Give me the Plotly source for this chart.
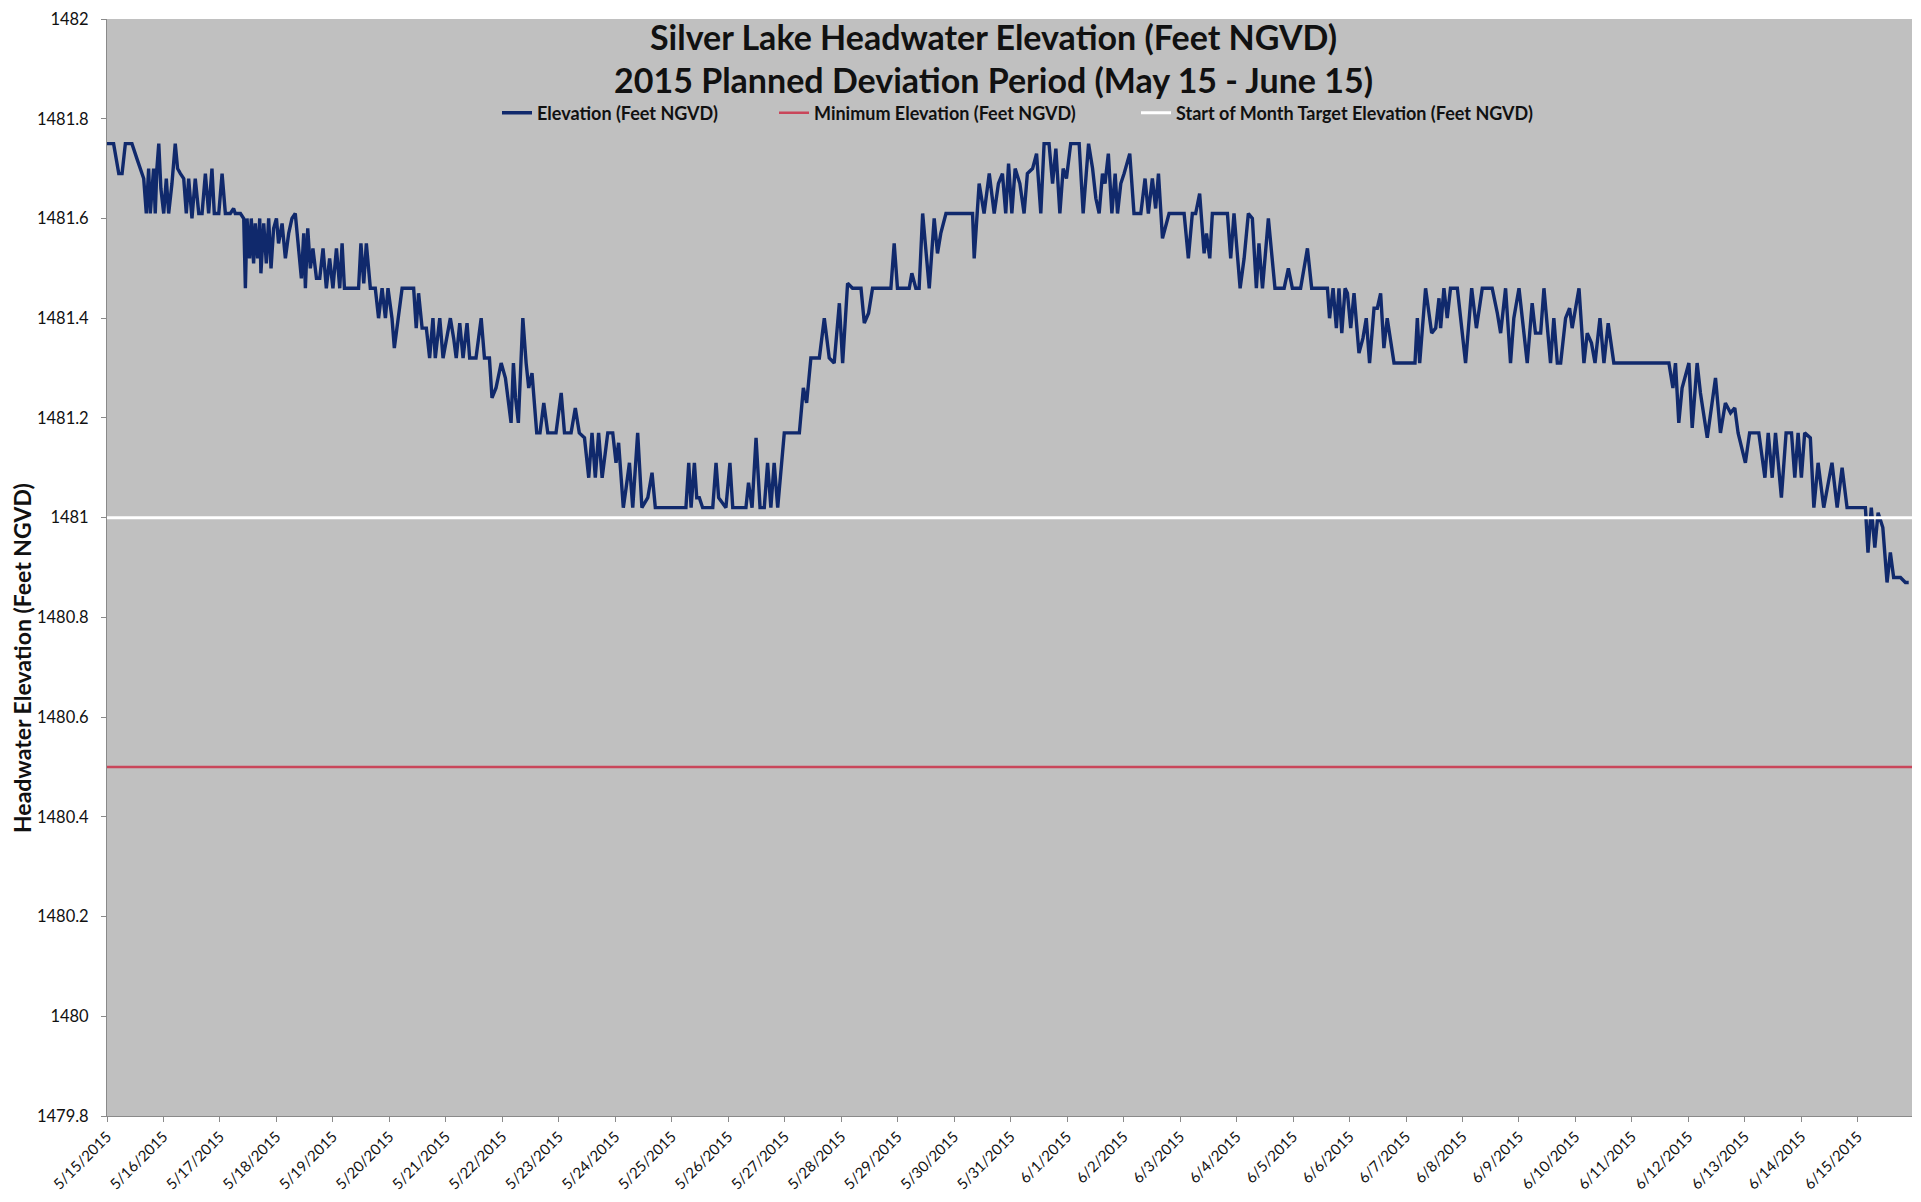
import plotly.graph_objects as go
from datetime import datetime, timedelta

# ---------------- data ----------------
period_start = datetime(2015, 5, 15)
period_hours = 767  # 5/15/2015 00:00 through 6/15/2015 23:00

hours = [
    0, 2.8, 5.0, 6.4, 7.8, 10.6, 12.7, 14.2, 15.6, 16.7, 17.7, 18.4, 19.8, 20.5, 21.2, 22.0, 22.9, 24.1,
    25.2, 26.2, 27.6, 29.0, 30.0, 31.2, 32.6, 33.7, 34.7, 36.1, 37.5, 39.0, 40.4, 41.8, 43.2, 44.6, 45.6,
    47.5, 48.9, 50.3, 52.4, 53.8, 54.5, 56.7, 58.1, 58.8, 59.5, 60.6, 61.3, 62.3, 63.0, 64.0, 64.9, 65.4,
    66.6, 67.7, 68.7, 69.7, 70.8, 72.0, 72.9, 74.4, 75.8, 77.2, 78.6, 80.0, 81.4, 82.6, 83.6, 84.3, 85.3,
    86.4, 87.5, 89.0, 90.4, 91.8, 93.2, 94.6, 96.0, 97.5, 98.9, 99.9, 100.9, 104.1, 106.9, 107.9, 109.1,
    110.2, 111.9, 114.0, 115.4, 116.9, 118.3, 119.4, 121.1, 122.1, 123.5, 125.4, 128.9, 130.3, 131.4,
    132.4, 133.9, 135.7, 137.1, 138.5, 139.5, 141.4, 142.8, 144.5, 145.9, 147.3, 148.4, 149.9, 151.3,
    153.0, 154.1, 155.8,
    156.8, 159.0, 160.4, 162.5, 163.6, 165.3, 167.5, 169.3, 170.3, 171.7, 172.7, 173.6, 174.8, 176.7,
    178.1, 179.2, 180.6, 182.6, 184.0, 185.6, 187.3, 190.8, 193.0, 194.4, 197.2, 199.0, 200.7, 202.9,
    204.7, 206.1, 207.5, 208.9, 210.4, 212.8, 214.9, 216.3, 217.4, 219.4, 220.6, 222.0, 223.4, 225.5,
    227.3, 229.8, 231.6, 233.0, 236.1, 238.7, 240.1, 246.0, 247.2, 248.2, 249.6, 250.6, 251.7, 253.1,
    257.4, 258.8, 259.9, 261.3, 263.0, 264.7, 265.9, 271.5, 272.6, 274.1, 275.8, 277.5, 279.3, 280.7,
    282.1, 283.5, 285.0, 287.8, 292.0, 294.2, 295.9, 297.3, 299.1, 302.7, 304.8, 306.9, 309.0,
    311.2, 312.6, 314.7, 316.8, 320.4, 321.8, 323.6, 325.3, 333.1, 334.5, 335.9, 340.9, 342.0, 343.7,
    345.1, 346.6, 348.0, 349.4, 351.5, 352.9, 354.3, 356.5, 367.8, 368.5, 370.6, 372.7, 374.9, 377.0,
    378.8, 380.5, 381.9, 383.1, 384.5, 385.9, 387.9, 389.7, 391.1, 393.3, 395.0, 396.8, 398.2, 400.3,
    401.8, 403.2, 404.9, 406.3, 407.7, 409.5, 413.1, 414.8, 417.1, 418.8, 420.2, 421.6, 423.0, 424.1,
    425.5, 427.0, 428.4, 429.4, 430.8, 432.2, 434.6, 436.4, 439.3, 441.1, 442.5, 444.2, 445.6, 446.8,
    448.5, 451.3, 457.7, 459.5, 461.2,
    462.6, 464.3, 466.2, 467.2, 468.6, 469.7, 476.1, 477.5, 478.9, 481.5, 483.2, 485.0, 486.7, 488.4,
    489.5, 491.0, 493.5, 496.3, 500.2, 502.0, 503.7, 507.2, 510.1, 511.9, 518.6, 519.5, 521.0, 522.4,
    523.5, 524.7, 526.1, 527.1, 528.5, 529.9, 532.0, 533.7, 535.1, 536.5, 538.4, 539.8, 541.2, 542.6,
    544.0, 546.9, 551.8, 555.8, 556.8, 557.8, 560.3, 562.9, 564.6, 566.0, 566.7, 568.1, 569.5, 570.9,
    573.8, 577.3, 579.9, 581.9, 584.4, 588.6, 590.8, 592.2, 594.3, 596.4, 597.8, 600.0, 603.5, 605.6,
    607.0, 609.2, 610.6, 613.4, 614.8,
    616.3, 617.7, 619.8, 621.5, 622.6, 625.5, 627.6, 629.0, 630.8, 632.3, 634.4, 636.1, 637.9, 640.3,
    646.7, 653.8, 660.1, 663.7, 665.4, 666.5, 667.9, 669.3, 672.2, 673.6, 675.7, 677.1, 680.0, 683.5,
    685.6, 687.7, 689.9, 691.7, 693.1, 696.2, 698.0, 701.9, 704.5, 705.9, 707.6, 709.0, 711.5, 713.5,
    715.8, 717.2, 718.6, 720.0, 721.4, 723.8, 725.3, 727.1, 729.5, 733.0, 735.2, 737.3, 739.4, 744.4,
    747.2, 748.3, 749.7, 751.2, 752.6, 754.6, 756.4, 757.8, 759.2, 762.1, 764.2, 765.6,
]

elevation = [
    1481.75, 1481.75, 1481.69, 1481.69, 1481.75, 1481.75, 1481.72, 1481.70, 1481.68, 1481.61, 1481.70,
    1481.61, 1481.70, 1481.61, 1481.70, 1481.75, 1481.66, 1481.61, 1481.68, 1481.61, 1481.67, 1481.75,
    1481.70, 1481.69, 1481.68, 1481.61, 1481.68, 1481.60, 1481.68, 1481.61, 1481.61, 1481.69, 1481.61,
    1481.70, 1481.61, 1481.61, 1481.69, 1481.61, 1481.61, 1481.62, 1481.61, 1481.61, 1481.60, 1481.46,
    1481.60, 1481.52, 1481.60, 1481.51, 1481.59, 1481.52, 1481.60, 1481.49, 1481.59, 1481.51, 1481.60,
    1481.50, 1481.58, 1481.60, 1481.55, 1481.59, 1481.52, 1481.57, 1481.60, 1481.61, 1481.54, 1481.48,
    1481.57, 1481.46, 1481.58, 1481.50, 1481.54, 1481.48, 1481.48, 1481.54, 1481.46, 1481.52, 1481.46,
    1481.54, 1481.46, 1481.55, 1481.46, 1481.46, 1481.46, 1481.55, 1481.47, 1481.55, 1481.46, 1481.46,
    1481.40, 1481.46, 1481.40, 1481.46, 1481.40, 1481.34, 1481.39, 1481.46, 1481.46, 1481.46, 1481.38,
    1481.45, 1481.38, 1481.38, 1481.32, 1481.40, 1481.32, 1481.40, 1481.32, 1481.36, 1481.40, 1481.36,
    1481.32, 1481.39, 1481.32, 1481.39, 1481.32, 1481.32,
    1481.32, 1481.40, 1481.32, 1481.32, 1481.24, 1481.26, 1481.31, 1481.28, 1481.24, 1481.19, 1481.31,
    1481.24, 1481.19, 1481.40, 1481.31, 1481.26, 1481.29, 1481.17, 1481.17, 1481.23, 1481.17, 1481.17,
    1481.25, 1481.17, 1481.17, 1481.22, 1481.17, 1481.16, 1481.08, 1481.17, 1481.08, 1481.17, 1481.08,
    1481.17, 1481.17, 1481.11, 1481.15, 1481.02, 1481.06, 1481.11, 1481.02, 1481.17, 1481.02, 1481.04,
    1481.09, 1481.02, 1481.02, 1481.02, 1481.02, 1481.02, 1481.11, 1481.02, 1481.11, 1481.04, 1481.04,
    1481.02, 1481.02, 1481.11, 1481.04, 1481.03, 1481.02, 1481.11, 1481.02, 1481.02, 1481.07, 1481.02,
    1481.16, 1481.02, 1481.02, 1481.11, 1481.02, 1481.11, 1481.02, 1481.17, 1481.17, 1481.17, 1481.26,
    1481.23, 1481.32, 1481.32, 1481.40, 1481.32, 1481.31,
    1481.43, 1481.31, 1481.47, 1481.46, 1481.46, 1481.39, 1481.41, 1481.46, 1481.46, 1481.55, 1481.46,
    1481.46, 1481.49, 1481.46, 1481.46, 1481.61, 1481.54, 1481.46, 1481.60, 1481.53, 1481.57, 1481.61,
    1481.61, 1481.52, 1481.67, 1481.61, 1481.69, 1481.61, 1481.67, 1481.69, 1481.61, 1481.71, 1481.61,
    1481.70, 1481.67, 1481.61, 1481.69, 1481.70, 1481.73, 1481.61, 1481.75, 1481.75, 1481.67, 1481.74,
    1481.61, 1481.70, 1481.68, 1481.75, 1481.75, 1481.61, 1481.75, 1481.70, 1481.64, 1481.61, 1481.69,
    1481.67, 1481.73, 1481.61, 1481.69, 1481.61, 1481.67, 1481.69, 1481.73, 1481.61, 1481.61, 1481.68,
    1481.61, 1481.68, 1481.62, 1481.69, 1481.56, 1481.61, 1481.61, 1481.52, 1481.61,
    1481.61, 1481.65, 1481.53, 1481.57, 1481.52, 1481.61, 1481.61, 1481.52, 1481.61, 1481.46, 1481.52,
    1481.61, 1481.60, 1481.46, 1481.55, 1481.46, 1481.60, 1481.46, 1481.46, 1481.50, 1481.46, 1481.46,
    1481.54, 1481.46, 1481.46, 1481.40, 1481.46, 1481.38, 1481.46, 1481.37, 1481.46, 1481.45, 1481.38,
    1481.45, 1481.33, 1481.36, 1481.40, 1481.31, 1481.42, 1481.42, 1481.45, 1481.34, 1481.40, 1481.31,
    1481.31, 1481.31, 1481.40, 1481.31, 1481.46, 1481.37, 1481.38, 1481.44, 1481.38, 1481.46, 1481.40,
    1481.46, 1481.46, 1481.31, 1481.46, 1481.38, 1481.46, 1481.46, 1481.41, 1481.37, 1481.46, 1481.31,
    1481.40, 1481.46, 1481.31, 1481.43, 1481.37, 1481.37, 1481.46, 1481.31, 1481.40,
    1481.31, 1481.31, 1481.40, 1481.42, 1481.38, 1481.46, 1481.31, 1481.37, 1481.35, 1481.31, 1481.40,
    1481.31, 1481.39, 1481.31, 1481.31, 1481.31, 1481.31, 1481.31, 1481.26, 1481.31, 1481.19, 1481.26,
    1481.31, 1481.18, 1481.31, 1481.25, 1481.16, 1481.28, 1481.17, 1481.23, 1481.21, 1481.22, 1481.17,
    1481.11, 1481.17, 1481.17, 1481.08, 1481.17, 1481.08, 1481.17, 1481.04, 1481.17, 1481.17, 1481.08,
    1481.17, 1481.08, 1481.17, 1481.16, 1481.02, 1481.11, 1481.02, 1481.11, 1481.02, 1481.10, 1481.02,
    1481.02, 1481.02, 1480.93, 1481.02, 1480.94, 1481.01, 1480.98, 1480.87, 1480.93, 1480.88, 1480.88,
    1480.87, 1480.87,
]

minimum_elevation = 1480.5
target_elevation = 1481.0

series_names = [
    "Elevation (Feet NGVD)",
    "Minimum Elevation (Feet NGVD)",
    "Start of Month Target Elevation (Feet NGVD)",
]
title_lines = [
    "Silver Lake Headwater Elevation (Feet NGVD)",
    "2015 Planned Deviation Period (May 15 - June 15)",
]
y_title = "Headwater Elevation (Feet NGVD)"

# ---------------- figure ----------------
x_vals = [period_start + timedelta(hours=h) for h in hours]
x_span = [period_start, period_start + timedelta(hours=period_hours)]

FONT = "Lato, 'Open Sans', sans-serif"
OFF = 8                      # page body margin in the browser
W, H = 1921 - 2 * OFF, 1202 - 2 * OFF
# plot area in page pixels: left 106.6, right 1912, top ~15, bottom 1116
ML = 107 - OFF
MT = 19 - OFF
MR = W - (1912 - OFF)
MB = H - (1116 - OFF)
PW, PH = W - ML - MR, H - MT - MB


def page_to_paper(px, py):
    return (px - OFF - ML) / PW, (H - MB - (py - OFF)) / PH


def page_to_container(px, py):
    return (px - OFF) / W, 1 - (py - OFF) / H


fig = go.Figure()
fig.add_trace(go.Scatter(
    x=x_vals, y=elevation, mode="lines", name=series_names[0],
    line=dict(color="#10296C", width=3.4), legend="legend",
))
fig.add_trace(go.Scatter(
    x=x_span, y=[minimum_elevation] * 2, mode="lines", name=series_names[1],
    line=dict(color="#C9465A", width=2.5), legend="legend2",
))
fig.add_trace(go.Scatter(
    x=x_span, y=[target_elevation] * 2, mode="lines", name=series_names[2],
    line=dict(color="#FFFFFF", width=3), legend="legend3",
))

leg_common = dict(
    orientation="h", xref="container", yref="container", xanchor="left", yanchor="middle",
    bgcolor="rgba(0,0,0,0)", borderwidth=0,
    font=dict(family=FONT, size=18, color="#111111", weight="bold"),
)
l1x, ly = page_to_container(497, 113)
l2x, _ = page_to_container(774, 113)
l3x, _ = page_to_container(1136, 113)

t1x, t1y = page_to_paper(993, 37)
t2x, t2y = page_to_paper(993, 80)
ytx, yty = page_to_paper(22, 658)

fig.update_layout(
    width=W, height=H,
    margin=dict(l=ML, r=MR, t=MT, b=MB, autoexpand=False),
    paper_bgcolor="#FFFFFF",
    plot_bgcolor="#C0C0C0",
    showlegend=True,
    legend=dict(x=l1x, y=ly, **leg_common),
    legend2=dict(x=l2x, y=ly, **leg_common),
    legend3=dict(x=l3x, y=ly, **leg_common),
    xaxis=dict(
        type="date", range=x_span, tickformat="%-m/%-d/%Y", dtick=86400000, tick0=period_start,
        tickangle=-45, ticks="outside", ticklen=5, tickcolor="#8A8A8A",
        showline=True, linecolor="#8A8A8A", linewidth=1, showgrid=False, zeroline=False,
        tickfont=dict(family=FONT, size=15, color="#111111"), automargin=False,
        ticklabeloverflow="allow",
    ),
    yaxis=dict(
        range=[1479.8, 1482], dtick=0.2, tick0=1480, tickformat=".5~g", ticks="outside", ticklen=5,
        tickcolor="#8A8A8A", showline=True, linecolor="#8A8A8A", linewidth=1,
        showgrid=False, zeroline=False, ticklabelstandoff=9, automargin=False,
        tickfont=dict(family=FONT, size=16.5, color="#111111"), ticklabeloverflow="allow",
    ),
    annotations=[
        dict(text=title_lines[0], xref="paper", yref="paper", x=t1x, y=t1y,
             xanchor="center", yanchor="middle", showarrow=False,
             font=dict(family=FONT, size=34, color="#111111", weight="bold")),
        dict(text=title_lines[1], xref="paper", yref="paper", x=t2x, y=t2y,
             xanchor="center", yanchor="middle", showarrow=False,
             font=dict(family=FONT, size=34, color="#111111", weight="bold")),
        dict(text=y_title, xref="paper", yref="paper", x=ytx, y=yty,
             xanchor="center", yanchor="middle", showarrow=False, textangle=-90,
             font=dict(family=FONT, size=23, color="#111111", weight="bold")),
    ],
)

fig.write_html("out.html")
